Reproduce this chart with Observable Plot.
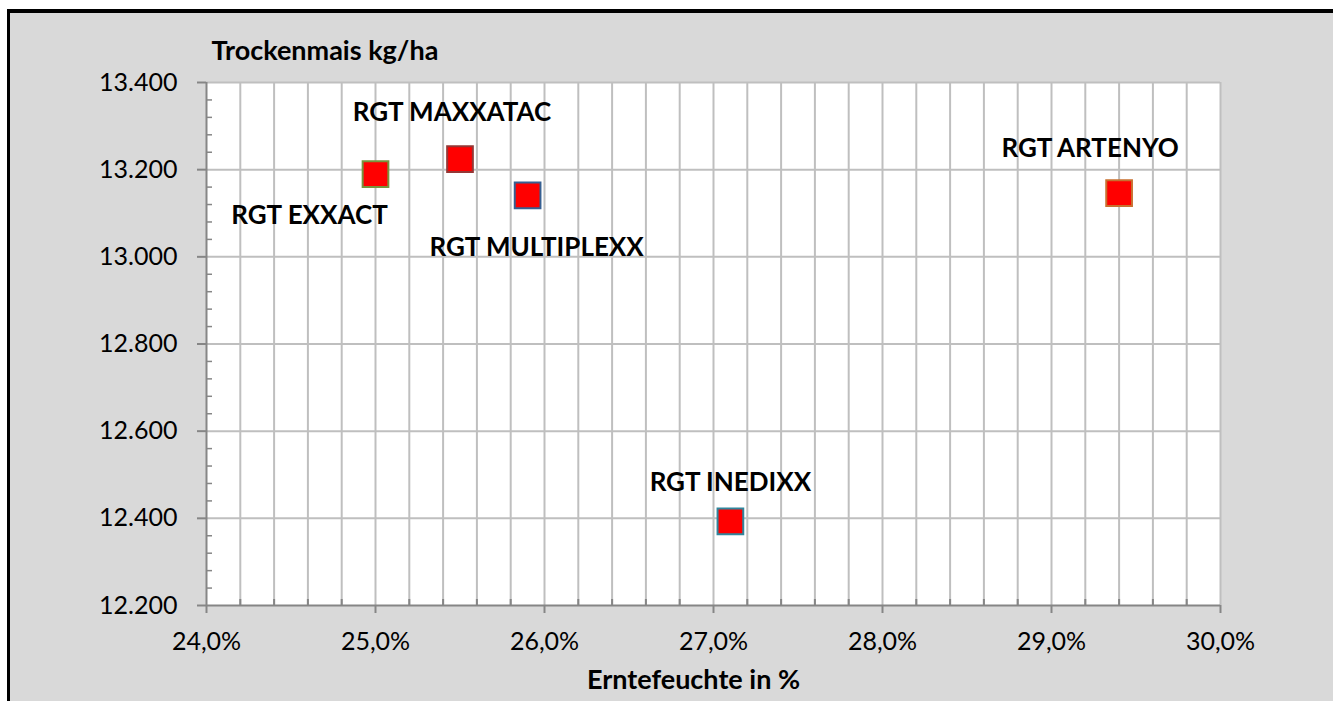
<!DOCTYPE html>
<html><head><meta charset="utf-8">
<script src="https://cdn.jsdelivr.net/npm/d3@7"></script>
<script src="https://cdn.jsdelivr.net/npm/@observablehq/plot@0.6"></script>
<style>
html,body{margin:0;padding:0;background:#fff;overflow:hidden;width:1333px;height:701px;}
#bg{position:absolute;left:7px;top:9px;width:1400px;height:800px;border-left:3px solid #000;border-top:4px solid #000;background:#D9D9D9;}
#chart{position:absolute;left:0;top:0;}
</style></head><body><div id="bg"></div><div id="chart"></div>
<script>
// Data
const varieties = ["RGT EXXACT", "RGT MAXXATAC", "RGT MULTIPLEXX", "RGT INEDIXX", "RGT ARTENYO"];
const moisture = [25.0, 25.5, 25.9, 27.1, 29.4];           // Erntefeuchte in %
const yieldKg = [13190, 13224, 13141, 12393, 13146];        // Trockenmais kg/ha
const xTicks = [24, 25, 26, 27, 28, 29, 30];
const yTicks = [12200, 12400, 12600, 12800, 13000, 13200, 13400];

// Styles
const markerStroke = ["#77933C", "#953735", "#376092", "#31859C", "#C8702F"];
const labelDx = [-66, -8, 9, 0, -29];
const labelDy = [42, -47, 52, -39, -45];

const xGrid = [];
for (let i = 121; i <= 150; i++) xGrid.push(i / 5);
const xMinor = [];
for (let i = 121; i <= 149; i++) if (i % 5 !== 0) xMinor.push(i / 5);
const yMinor = [];
for (let v = 12240; v < 13400; v += 40) if (v % 200 !== 0) yMinor.push(v);

const W = 1333, H = 701, ML = 206, MR = 113, MT = 82, MB = 96;
const PW = W - ML - MR, PH = H - MT - MB;
const gridColor = "#BFBFBF", axisColor = "#868686";
const boldFont = "Lato, 'Open Sans', sans-serif";
const idx = varieties.map((_, i) => i);

const chart = Plot.plot({
  width: W, height: H,
  marginLeft: ML, marginRight: MR, marginTop: MT, marginBottom: MB,
  style: {background: "transparent", fontFamily: "Lato, 'Open Sans', sans-serif", fontSize: "25px", color: "black"},
  x: {domain: [24, 30]},
  y: {domain: [12200, 13400]},
  color: {type: "identity"},
  marks: [
    Plot.frame({fill: "white", stroke: null}),
    Plot.ruleX(xGrid, {stroke: gridColor, strokeWidth: 2}),
    Plot.ruleY(yTicks.filter(d => d > 12200), {stroke: gridColor, strokeWidth: 2}),
    Plot.tickX(xMinor, {x: d => d, stroke: axisColor, strokeWidth: 2, insetTop: PH - 6}),
    Plot.tickY(yMinor, {y: d => d, stroke: axisColor, strokeWidth: 1.5, insetRight: PW - 6}),
    Plot.ruleX([24], {stroke: axisColor, strokeWidth: 2}),
    Plot.ruleY([12200], {stroke: axisColor, strokeWidth: 2}),
    Plot.axisX(xTicks, {tickSize: 8, tickPadding: 19, stroke: axisColor, strokeWidth: 2, fill: "black",
      tickFormat: d => d.toFixed(1).replace(".", ",") + "%", fontSize: 25}),
    Plot.axisY(yTicks, {tickSize: 9, tickPadding: 20, stroke: axisColor, strokeWidth: 2, fill: "black",
      tickFormat: d => d3.format(",")(d).replace(",", "."), fontSize: 25}),
    Plot.dot(idx, {x: i => moisture[i], y: i => yieldKg[i], symbol: "square", r: 14.5,
      fill: "#FF0000", stroke: i => markerStroke[i], strokeWidth: 2}),
    ...idx.map(i => Plot.text([i], {x: i => moisture[i], y: i => yieldKg[i], text: i => varieties[i],
      dx: labelDx[i], dy: labelDy[i], fontWeight: "bold", fontSize: 26, fontFamily: boldFont, fill: "black"})),
    Plot.text(["Trockenmais kg/ha"], {frameAnchor: "top-left", text: d => d, textAnchor: "start",
      lineAnchor: "bottom", dx: 5, dy: -23, fontWeight: "bold", fontSize: 27, fontFamily: boldFont, fill: "black"}),
    Plot.text(["Erntefeuchte in %"], {frameAnchor: "bottom", text: d => d, textAnchor: "middle",
      lineAnchor: "bottom", dx: -20, dy: 83, fontWeight: "bold", fontSize: 27, fontFamily: boldFont, fill: "black"})
  ]
});
document.getElementById("chart").appendChild(chart);
</script></body></html>
